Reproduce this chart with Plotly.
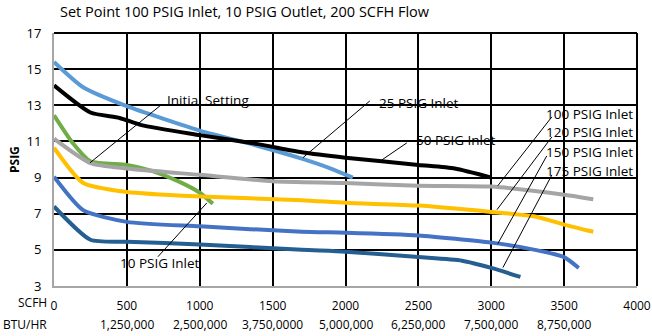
import plotly.graph_objects as go

# ---- data ----
scfh_ticks = [0, 500, 1000, 1500, 2000, 2500, 3000, 3500, 4000]
btu_labels = ["", "1,250,000", "2,500,000", "3,750,0000", "5,000,000", "6,250,000", "7,500,000", "8,750,000", ""]
psig_ticks = [3, 5, 7, 9, 11, 13, 15, 17]

x_10 = [0, 130, 250, 500, 660, 850, 1000, 1090]
y_10 = [12.45, 10.9, 9.9, 9.7, 9.4, 8.8, 8.16, 7.55]

x_25 = [0, 200, 500, 1000, 1400, 1700, 1900, 2050]
y_25 = [15.4, 14.0, 12.95, 11.6, 10.75, 10.05, 9.5, 9.0]

x_50 = [0, 250, 450, 600, 1000, 1400, 1700, 2000, 2500, 2750, 3000]
y_50 = [14.1, 12.6, 12.3, 11.9, 11.35, 10.85, 10.4, 10.1, 9.7, 9.5, 9.0]

x_100 = [0, 250, 500, 1000, 1500, 2000, 2500, 3000, 3500, 3700]
y_100 = [11.15, 9.8, 9.5, 9.15, 8.8, 8.7, 8.55, 8.5, 8.05, 7.8]

x_120 = [0, 200, 500, 1000, 1700, 2000, 2500, 3000, 3300, 3500, 3700]
y_120 = [10.65, 8.7, 8.2, 7.95, 7.75, 7.6, 7.45, 7.1, 6.85, 6.4, 6.0]

x_150 = [0, 200, 500, 1000, 1700, 2000, 2500, 3000, 3300, 3500, 3600]
y_150 = [9.05, 7.2, 6.55, 6.3, 6.0, 5.95, 5.8, 5.4, 5.0, 4.6, 4.0]

x_175 = [0, 250, 500, 1000, 1700, 2000, 2500, 2800, 3000, 3200]
y_175 = [7.4, 5.56, 5.45, 5.3, 5.0, 4.9, 4.6, 4.4, 4.0, 3.5]

series = [
    ("10 PSIG Inlet", x_10, y_10, "#70AD47"),
    ("25 PSIG Inlet", x_25, y_25, "#5B9BD5"),
    ("50 PSIG Inlet", x_50, y_50, "#000000"),
    ("100 PSIG Inlet", x_100, y_100, "#A5A5A5"),
    ("120 PSIG Inlet", x_120, y_120, "#FFC000"),
    ("150 PSIG Inlet", x_150, y_150, "#4472C4"),
    ("175 PSIG Inlet", x_175, y_175, "#255E91"),
]

# label text, text position, leader line (from, to)
labels = [
    ("Initial Setting", 760, 13.3, (727, 12.97), (247, 9.82)),
    ("25 PSIG Inlet", 2215, 13.15, (2167, 13.24), (1708, 10.1)),
    ("50 PSIG Inlet", 2470, 11.1, (2421, 10.92), (2250, 9.98)),
    ("100 PSIG Inlet", 3365, 12.5, (3416, 12.36), (3045, 8.55)),
    ("120 PSIG Inlet", 3365, 11.5, (3416, 11.25), (3039, 7.22)),
    ("150 PSIG Inlet", 3365, 10.42, (3381, 10.2), (3045, 5.34)),
    ("175 PSIG Inlet", 3365, 9.38, (3416, 9.15), (3080, 4.02)),
    ("10 PSIG Inlet", 440, 4.3, (713, 4.62), (1049, 7.6)),
]

FONT = "Open Sans"
L, R, T, B = 54, 15, 33, 50
W, H = 652, 336
plot_w = W - L - R
plot_h = H - T - B

fig = go.Figure()
for name, xs, ys, col in series:
    fig.add_trace(go.Scatter(x=xs, y=ys, mode="lines", name=name,
                             line=dict(color=col, width=4, shape="spline", smoothing=0.6),
                             showlegend=False, hoverinfo="skip"))

shapes = []
annotations = []
for text, tx, ty, p0, p1 in labels:
    shapes.append(dict(type="line", xref="x", yref="y", x0=p0[0], y0=p0[1], x1=p1[0], y1=p1[1],
                       line=dict(color="black", width=1), layer="above"))
    annotations.append(dict(text=text, x=tx, y=ty, xref="x", yref="y", xanchor="left",
                            yanchor="middle", showarrow=False,
                            font=dict(family=FONT, size=13.5, color="black")))

# borders top and right (black)
shapes.append(dict(type="line", xref="paper", yref="paper", x0=0, y0=1, x1=1, y1=1,
                   line=dict(color="black", width=2), layer="below"))
shapes.append(dict(type="line", xref="paper", yref="paper", x0=1, y0=0, x1=1, y1=1,
                   line=dict(color="black", width=2), layer="below"))

# second row of x labels (BTU/HR)
for s, b in zip(scfh_ticks, btu_labels):
    if b:
        annotations.append(dict(text=b, x=s, xref="x", y=-(324 - (H - B)) / plot_h, yref="paper",
                                xanchor="center", yanchor="middle", showarrow=False,
                                font=dict(family=FONT, size=12, color="black")))

annotations.append(dict(text="SCFH", x=(49 - L) / plot_w, y=-(302 - (H - B)) / plot_h, xref="paper", yref="paper",
                        xanchor="right", yanchor="middle", showarrow=False,
                        font=dict(family=FONT, size=12, color="black")))
annotations.append(dict(text="BTU/HR", x=(49 - L) / plot_w, y=-(324 - (H - B)) / plot_h, xref="paper", yref="paper",
                        xanchor="right", yanchor="middle", showarrow=False,
                        font=dict(family=FONT, size=12, color="black")))
annotations.append(dict(text="<b>PSIG</b>", x=(14 - L) / plot_w, y=1 - (160 - T) / plot_h, xref="paper", yref="paper",
                        xanchor="center", yanchor="middle", showarrow=False, textangle=-90,
                        font=dict(family=FONT, size=12, color="black")))

fig.update_layout(
    width=W, height=H,
    margin=dict(l=L, r=R, t=T, b=B),
    paper_bgcolor="white", plot_bgcolor="white",
    title=dict(text="Set Point 100 PSIG Inlet, 10 PSIG Outlet, 200 SCFH Flow",
               x=60 / W, xanchor="left", y=1 - 12 / H, yanchor="middle",
               font=dict(family=FONT, size=14.5, color="black")),
    xaxis=dict(range=[0, 4000], tickvals=scfh_ticks, ticktext=[str(s) for s in scfh_ticks],
               showgrid=True, gridcolor="black", gridwidth=2,
               showline=True, linecolor="#A6A6A6", linewidth=2,
               zeroline=False, ticks="", ticklabelstandoff=8, automargin=False,
               tickfont=dict(family=FONT, size=12, color="black"),
               fixedrange=True),
    yaxis=dict(range=[3, 17], tickvals=psig_ticks,
               showgrid=True, gridcolor="black", gridwidth=2,
               showline=True, linecolor="#A6A6A6", linewidth=2,
               zeroline=False, ticks="", ticklabelstandoff=8, automargin=False,
               tickfont=dict(family=FONT, size=13, color="black"),
               fixedrange=True),
    shapes=shapes,
    annotations=annotations,
)

fig.write_html("out.html", config={"displayModeBar": False},
               post_script="document.body.style.margin='0';document.body.style.padding='0';")
